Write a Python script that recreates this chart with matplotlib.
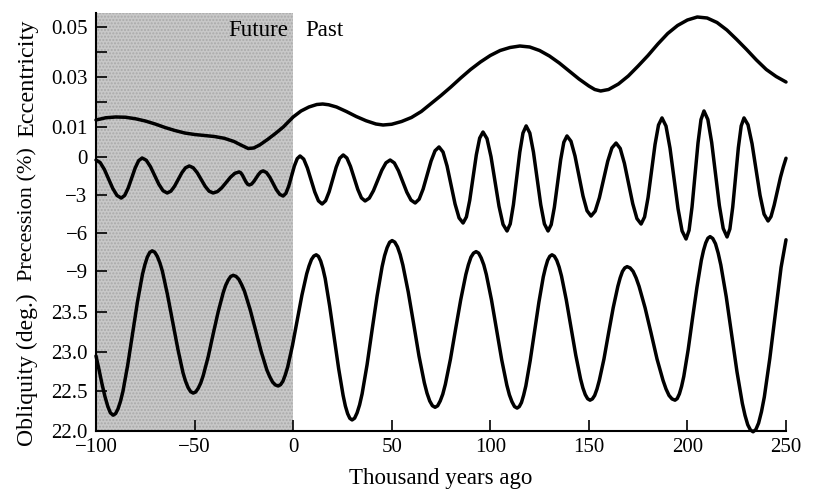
import matplotlib.pyplot as plt

plt.rcParams['font.family'] = 'Liberation Serif'

# eccentricity (thousand years ago, value)
ecc_kyr = [-100, -95, -90, -85, -80, -75, -70, -65, -60, -55, -50, -45, -40, -35, -30, -26,
           -22.8, -20, -17, -13, -9, -5, 0, 4, 8, 12, 15, 18, 22, 27, 32, 37, 42, 45.6, 50,
           55, 60, 65, 70, 75, 80, 85, 90, 95, 100, 105, 110, 115, 120, 125, 130, 135, 140,
           145, 150, 153, 156, 160, 165, 170, 175, 180, 185, 190, 195, 200, 205, 210, 215,
           220, 225, 230, 235, 240, 245, 250]
ecc_val = [0.0128, 0.0137, 0.0140, 0.0139, 0.0133, 0.0124, 0.0112, 0.0098, 0.0086, 0.0076,
           0.0070, 0.0066, 0.0062, 0.0055, 0.0042, 0.0026, 0.0014, 0.0016, 0.0028, 0.0050,
           0.0074, 0.0100, 0.0140, 0.0164, 0.0180, 0.0190, 0.0192, 0.0189, 0.0180, 0.0162,
           0.0142, 0.0125, 0.0112, 0.0108, 0.0111, 0.0122, 0.0138, 0.0162, 0.0194, 0.0226,
           0.0260, 0.0296, 0.0330, 0.0360, 0.0386, 0.0406, 0.0418, 0.0424, 0.0420, 0.0406,
           0.0384, 0.0356, 0.0324, 0.0292, 0.0264, 0.0250, 0.0244, 0.0250, 0.0272, 0.0304,
           0.0344, 0.0386, 0.0432, 0.0474, 0.0506, 0.0528, 0.0540, 0.0536, 0.0518, 0.0488,
           0.0450, 0.0410, 0.0368, 0.0330, 0.0302, 0.0280]

# precession (%)
prec_kyr = [-100, -97.87, -95.73, -93.6, -91.47, -89.33, -87.2, -85.43, -83.67, -81.9, -80.13,
            -78.37, -76.6, -74.48, -72.37, -70.25, -68.13, -66.02, -63.9, -62.03, -60.17,
            -58.3, -56.43, -54.57, -52.7, -50.68, -48.67, -46.65, -44.63, -42.62, -40.6,
            -38.4, -36.2, -34.0, -31.8, -29.6, -27.4, -26.55, -25.7, -24.85, -24.0, -23.15,
            -22.3, -21.12, -19.93, -18.75, -17.57, -16.38, -15.2, -13.52, -11.83, -10.15,
            -8.47, -6.78, -5.1, -3.67, -2.23, -0.8, 0.63, 2.07, 3.5, 5.37, 7.23, 9.1, 10.97,
            12.83, 14.7, 16.48, 18.27, 20.05, 21.83, 23.62, 25.4, 27.25, 29.1, 30.95, 32.8,
            34.65, 36.5, 38.62, 40.73, 42.85, 44.97, 47.08, 49.2, 51.32, 53.43, 55.55, 57.67,
            59.78, 61.9, 63.92, 65.93, 67.95, 69.97, 71.98, 74.0, 76.03, 78.07, 80.1, 82.13,
            84.17, 86.2, 87.88, 89.57, 91.25, 92.93, 94.62, 96.3, 98.33, 100.37, 102.4,
            104.43, 106.47, 108.5, 110.12, 111.73, 113.35, 114.97, 116.58, 118.2, 120.05,
            121.9, 123.75, 125.6, 127.45, 129.3, 130.9, 132.5, 134.1, 135.7, 137.3, 138.9,
            140.93, 142.97, 145.0, 147.03, 149.07, 151.1, 153.22, 155.33, 157.45, 159.57,
            161.68, 163.8, 165.92, 168.03, 170.15, 172.27, 174.38, 176.5, 178.27, 180.03,
            181.8, 183.57, 185.33, 187.1, 189.13, 191.17, 193.2, 195.23, 197.27, 199.3,
            200.82, 202.33, 203.85, 205.37, 206.88, 208.4, 210.35, 212.3, 214.25, 216.2,
            218.15, 220.1, 221.53, 222.97, 224.4, 225.83, 227.27, 228.7, 230.73, 232.77,
            234.8, 236.83, 238.87, 240.9, 242.4, 244.0, 245.6, 247.2, 248.6, 250.0]
prec_val = [-0.24, -0.44, -0.99, -1.74, -2.49, -3.04, -3.24, -3.03, -2.45, -1.66, -0.87,
            -0.29, -0.08, -0.26, -0.77, -1.46, -2.15, -2.66, -2.84, -2.70, -2.31, -1.78,
            -1.24, -0.85, -0.71, -0.85, -1.24, -1.78, -2.31, -2.70, -2.84, -2.73, -2.43,
            -2.01, -1.60, -1.29, -1.18, -1.25, -1.44, -1.70, -1.95, -2.14, -2.21, -2.14,
            -1.93, -1.66, -1.38, -1.17, -1.10, -1.23, -1.60, -2.09, -2.59, -2.95, -3.08,
            -2.87, -2.29, -1.50, -0.71, -0.13, 0.08, -0.17, -0.87, -1.82, -2.76, -3.46,
            -3.71, -3.45, -2.74, -1.78, -0.81, -0.10, 0.16, -0.08, -0.75, -1.66, -2.56,
            -3.23, -3.47, -3.25, -2.66, -1.86, -1.05, -0.46, -0.24, -0.47, -1.09, -1.94,
            -2.78, -3.40, -3.63, -3.33, -2.53, -1.42, -0.32, 0.49, 0.79, 0.39, -0.71, -2.21,
            -3.71, -4.81, -5.21, -4.73, -3.42, -1.62, 0.18, 1.49, 1.97, 1.45, 0.02, -1.94,
            -3.89, -5.32, -5.84, -5.28, -3.77, -1.70, 0.38, 1.89, 2.45, 1.89, 0.38, -1.70,
            -3.77, -5.28, -5.84, -5.34, -3.97, -2.09, -0.22, 1.16, 1.66, 1.24, 0.08, -1.50,
            -3.08, -4.24, -4.66, -4.27, -3.22, -1.78, -0.34, 0.71, 1.10, 0.67, -0.50, -2.10,
            -3.69, -4.86, -5.29, -4.73, -3.20, -1.11, 0.99, 2.52, 3.08, 2.44, 0.69, -1.70,
            -4.08, -5.83, -6.47, -5.79, -3.95, -1.42, 1.11, 2.95, 3.63, 2.96, 1.15, -1.34,
            -3.83, -5.64, -6.31, -5.68, -3.96, -1.62, 0.73, 2.45, 3.08, 2.54, 1.05, -0.99,
            -3.02, -4.51, -5.05, -4.7, -3.8, -2.7, -1.6, -0.8, -0.1]

# obliquity (degrees)
obl_kyr = [-100, -98.5, -97.0, -95.5, -94.0, -92.7, -91.3, -90.06, -88.83, -87.59, -86.35,
           -83.88, -81.4, -78.93, -76.45, -75.21, -73.98, -72.74, -71.5, -70.2, -68.9, -67.6,
           -66.3, -63.7, -61.1, -58.5, -55.9, -54.6, -53.3, -52.0, -50.7, -49.43, -48.16,
           -46.89, -45.63, -43.09, -40.55, -38.01, -35.48, -34.21, -32.94, -31.67, -30.4,
           -28.98, -27.55, -26.13, -24.7, -21.85, -19.0, -16.15, -13.3, -11.88, -10.45,
           -9.03, -7.6, -6.39, -5.19, -3.98, -2.78, -0.36, 2.05, 4.46, 6.88, 8.08, 9.29,
           10.49, 11.7, 12.84, 13.98, 15.11, 16.25, 18.53, 20.8, 23.08, 25.35, 26.49, 27.63,
           28.76, 29.9, 31.17, 32.44, 33.71, 34.98, 37.51, 40.05, 42.59, 45.13, 46.39, 47.66,
           48.93, 50.2, 51.56, 52.93, 54.29, 55.65, 58.38, 61.1, 63.83, 66.55, 67.91, 69.28,
           70.64, 72.0, 73.3, 74.6, 75.9, 77.2, 79.8, 82.4, 85.0, 87.6, 88.9, 90.2, 91.5,
           92.8, 94.1, 95.4, 96.7, 98.0, 100.6, 103.2, 105.8, 108.4, 109.7, 111.0, 112.3,
           113.6, 114.71, 115.81, 116.92, 118.03, 120.24, 122.45, 124.66, 126.88, 127.98,
           129.09, 130.19, 131.3, 132.51, 133.71, 134.92, 136.13, 138.54, 140.95, 143.36,
           145.78, 146.98, 148.19, 149.39, 150.6, 151.78, 152.95, 154.13, 155.3, 157.65,
           160.0, 162.35, 164.7, 165.88, 167.05, 168.23, 169.4, 170.92, 172.44, 173.96,
           175.48, 178.51, 181.55, 184.59, 187.63, 189.14, 190.66, 192.18, 193.7, 194.81,
           195.93, 197.04, 198.15, 200.38, 202.6, 204.83, 207.05, 208.16, 209.28, 210.39,
           211.5, 212.86, 214.23, 215.59, 216.95, 219.68, 222.4, 225.13, 227.85, 229.21,
           230.58, 231.94, 233.3, 234.72, 236.1, 237.56, 239.0, 241.8, 244.7, 247.5, 250.0]
obl_val = [22.95, 22.78, 22.60, 22.44, 22.31, 22.23, 22.20, 22.22, 22.28, 22.375, 22.50,
           22.84, 23.24, 23.64, 23.98, 24.105, 24.20, 24.26, 24.28, 24.263, 24.21, 24.128,
           24.02, 23.72, 23.38, 23.04, 22.74, 22.632, 22.55, 22.498, 22.48, 22.494, 22.54,
           22.606, 22.70, 22.94, 23.23, 23.51, 23.75, 23.844, 23.91, 23.956, 23.97, 23.957,
           23.92, 23.852, 23.77, 23.54, 23.27, 23.00, 22.77, 22.688, 22.62, 22.583, 22.57,
           22.586, 22.63, 22.71, 22.81, 23.08, 23.40, 23.72, 23.99, 24.09, 24.17, 24.214,
           24.23, 24.21, 24.15, 24.054, 23.93, 23.58, 23.19, 22.79, 22.45, 22.316, 22.22,
           22.16, 22.14, 22.162, 22.23, 22.331, 22.47, 22.84, 23.28, 23.71, 24.08, 24.219,
           24.32, 24.388, 24.41, 24.39, 24.33, 24.232, 24.10, 23.76, 23.36, 22.95, 22.61,
           22.478, 22.38, 22.32, 22.30, 22.319, 22.38, 22.466, 22.59, 22.91, 23.29, 23.66,
           23.98, 24.104, 24.20, 24.251, 24.27, 24.251, 24.19, 24.103, 23.98, 23.66, 23.28,
           22.90, 22.58, 22.457, 22.37, 22.309, 22.29, 22.309, 22.36, 22.454, 22.57, 22.89,
           23.26, 23.63, 23.95, 24.066, 24.16, 24.211, 24.23, 24.212, 24.16, 24.075, 23.96,
           23.66, 23.31, 22.96, 22.66, 22.545, 22.46, 22.408, 22.39, 22.406, 22.45, 22.532,
           22.64, 22.91, 23.24, 23.56, 23.83, 23.938, 24.02, 24.064, 24.08, 24.064, 24.02,
           23.938, 23.83, 23.56, 23.24, 22.91, 22.64, 22.532, 22.45, 22.406, 22.39, 22.41,
           22.47, 22.565, 22.69, 23.03, 23.43, 23.82, 24.16, 24.285, 24.38, 24.44, 24.46,
           24.436, 24.37, 24.252, 24.10, 23.70, 23.23, 22.75, 22.35, 22.198, 22.08, 22.014,
           21.99, 22.019, 22.10, 22.244, 22.43, 22.92, 23.50, 24.07, 24.42]

x_ticks = [-100, -50, 0, 50, 100, 150, 200, 250]
ecc_ticks = [0.01, 0.03, 0.05]
prec_ticks = [0, -3, -6, -9]
obl_ticks = [22.0, 22.5, 23.0, 23.5]

fig = plt.figure(figsize=(8.13, 4.95), dpi=100)
rect = [96 / 813, 64 / 495, 690 / 813, 418 / 495]
ax = fig.add_axes(rect)
ax_p = fig.add_axes(rect, sharex=ax)
ax_e = fig.add_axes(rect, sharex=ax)

ax.set_xlim(-100, 250)
ax.set_ylim(22.0, 27.29)
ax_p.set_ylim(-21.62, 11.36)
ax_e.set_ylim(-0.1116, 0.0556)

# shaded "future" part
ax.axvspan(-100, 0, facecolor='#c8c8c8', edgecolor='#a9a9a9', hatch='.....', lw=0, zorder=0)

line_kw = dict(color='black', lw=2.5, clip_on=False, solid_joinstyle='round', solid_capstyle='round')
ax.plot(obl_kyr, obl_val, **line_kw)
ax_p.plot(prec_kyr, prec_val, **line_kw)
ax_e.plot(ecc_kyr, ecc_val, **line_kw)

for a in (ax, ax_p, ax_e):
    a.spines['top'].set_visible(False)
    a.spines['right'].set_visible(False)
    a.tick_params(axis='y', direction='in', length=8, width=1.2, labelsize=15, pad=6)
for a in (ax_p, ax_e):
    a.patch.set_visible(False)
    a.spines['left'].set_visible(False)
    a.spines['bottom'].set_visible(False)
    a.tick_params(axis='x', bottom=False, labelbottom=False)

ax.spines['left'].set_linewidth(1.5)
ax.spines['bottom'].set_linewidth(1.5)
ax.set_xticks(x_ticks)
ax.set_xticklabels([str(t).replace('-', '\u2212') for t in x_ticks])
ax.tick_params(axis='x', direction='in', length=8, width=1.2, labelsize=15, pad=5)

ax.set_yticks(obl_ticks)
ax.set_yticklabels(['%.1f' % t for t in obl_ticks])
ax_p.set_yticks(prec_ticks)
ax_p.set_yticklabels([str(t).replace('-', '\u2212') for t in prec_ticks])
ax_e.set_yticks(ecc_ticks)
ax_e.set_yticks([0.02, 0.04], minor=True)
ax_e.set_yticklabels(['%.2f' % t for t in ecc_ticks])
ax_e.tick_params(axis='y', which='minor', direction='in', length=8, width=1.2)

ax.set_xlabel('Thousand years ago', fontsize=16.5, labelpad=8)

fig.text(0.034, 1 - 78 / 495, 'Eccentricity', rotation=90, ha='center', va='center', fontsize=17.5)
fig.text(0.034, 1 - 214 / 495, 'Precession (%)', rotation=90, ha='center', va='center', fontsize=16)
fig.text(0.034, 1 - 370 / 495, 'Obliquity (deg.)', rotation=90, ha='center', va='center', fontsize=17)

ax.text(-2.5, 0.958, 'Future', transform=ax.get_xaxis_transform(), ha='right', va='center', fontsize=16.5)
ax.text(6, 0.958, 'Past', transform=ax.get_xaxis_transform(), ha='left', va='center', fontsize=16.5)

fig.savefig('out.png', dpi=100)
